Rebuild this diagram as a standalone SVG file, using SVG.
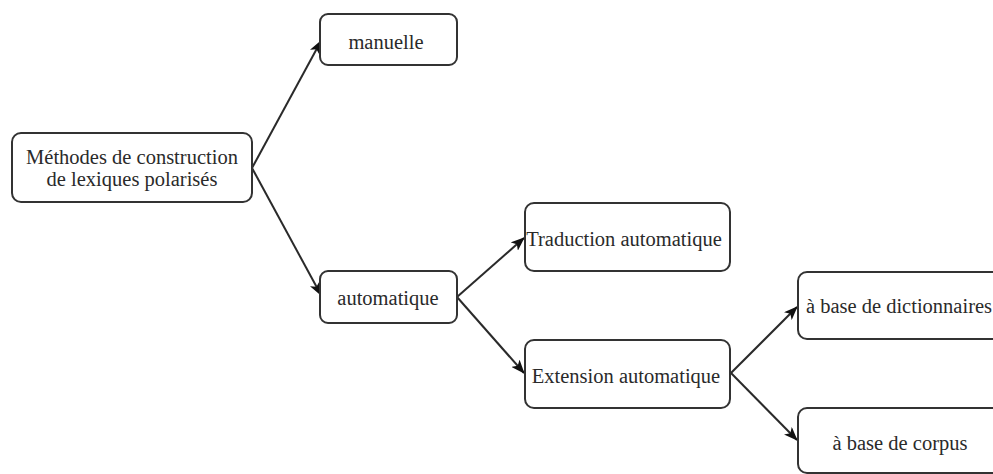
<svg xmlns="http://www.w3.org/2000/svg" width="993" height="474" viewBox="0 0 993 474">
  <style>
    .box { fill: #ffffff; stroke: #333333; stroke-width: 2; }
    .lbl { font-family: "Liberation Serif", "Times New Roman", serif; font-size: 20.5px; fill: #2a2a2a; text-anchor: middle; }
    .edge { fill: none; stroke: #2a2a2a; stroke-width: 2; }
  </style>
  <defs>
    <marker id="arrow" viewBox="0 0 14 11" refX="13" refY="5.5" markerWidth="14" markerHeight="11" markerUnits="userSpaceOnUse" orient="auto">
      <path d="M0,0 L14,5.5 L0,11 L3.5,5.5 Z" fill="#111111"/>
    </marker>
  </defs>
  <rect width="993" height="474" fill="#ffffff"/>

  <g id="connectors">
    <line class="edge" x1="252" y1="168" x2="321" y2="41" marker-end="url(#arrow)"/>
    <line class="edge" x1="252" y1="168" x2="321" y2="295" marker-end="url(#arrow)"/>
    <line class="edge" x1="457" y1="297" x2="524" y2="238" marker-end="url(#arrow)"/>
    <line class="edge" x1="457" y1="297" x2="524" y2="373" marker-end="url(#arrow)"/>
    <line class="edge" x1="731" y1="373" x2="797" y2="307" marker-end="url(#arrow)"/>
    <line class="edge" x1="731" y1="373" x2="797" y2="440" marker-end="url(#arrow)"/>
  </g>

  <g id="node-root">
    <rect class="box" x="12" y="133" width="240" height="69" rx="9"/>
    <text class="lbl" x="132" y="164">Méthodes de construction</text>
    <text class="lbl" x="132" y="186">de lexiques polarisés</text>
  </g>

  <g id="node-manuelle">
    <rect class="box" x="320" y="14" width="137" height="51" rx="8"/>
    <text class="lbl" x="386" y="49">manuelle</text>
  </g>

  <g id="node-automatique">
    <rect class="box" x="320" y="271" width="137" height="52" rx="8"/>
    <text class="lbl" x="388" y="305">automatique</text>
  </g>

  <g id="node-traduction">
    <rect class="box" x="525" y="203" width="205" height="68" rx="9"/>
    <text class="lbl" x="624" y="246">Traduction automatique</text>
  </g>

  <g id="node-extension">
    <rect class="box" x="525" y="340" width="205" height="68" rx="9"/>
    <text class="lbl" x="626" y="383">Extension automatique</text>
  </g>

  <g id="node-dictionnaires">
    <rect class="box" x="798" y="272" width="210" height="67" rx="9"/>
    <text class="lbl" x="899" y="313">à base de dictionnaires</text>
  </g>

  <g id="node-corpus">
    <rect class="box" x="798" y="408" width="210" height="65" rx="9"/>
    <text class="lbl" x="900" y="450">à base de corpus</text>
  </g>
</svg>
